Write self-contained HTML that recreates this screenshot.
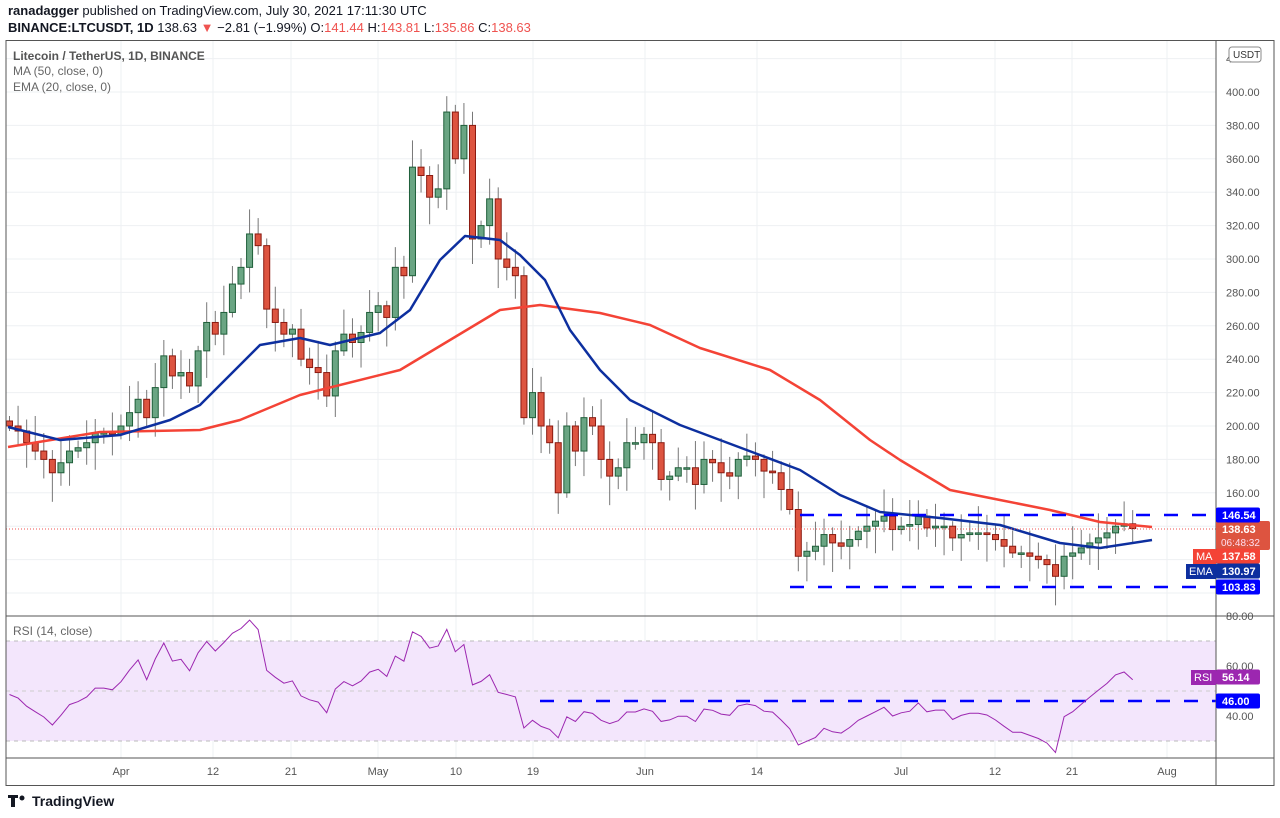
<!DOCTYPE html>
<html><head><meta charset="utf-8">
<style>
body{margin:0;background:#fff;font-family:"Liberation Sans",sans-serif;}
#w{position:relative;width:1280px;height:818px;overflow:hidden;background:#fff}
.h1{position:absolute;left:8px;top:3px;font-size:13px;color:#131722}
.h2{position:absolute;left:8px;top:20px;font-size:13px;color:#131722}
.r{color:#ef5350}
</style></head><body><div id="w">
<div class="h1"><b>ranadagger</b> published on TradingView.com, July 30, 2021 17:11:30 UTC</div>
<div class="h2"><b>BINANCE:LTCUSDT, 1D</b> 138.63 <span class="r">▼</span> −2.81 (−1.99%) O:<span class="r">141.44</span> H:<span class="r">143.81</span> L:<span class="r">135.86</span> C:<span class="r">138.63</span></div>
<svg id="s" width="1280" height="818" style="position:absolute;left:0;top:0" font-family="Liberation Sans, sans-serif"></svg>
</div>
<script>
const C=[200,197,190,185,180,172,178,185,187,190,196,196,195,
200,208,216,205,223,242,230,232,224,245,262,255,268,285,295,315,308,270,262,255,258,240,235,232,218,245,255,250,256,268,
272,265,295,290,355,350,337,342,388,360,380,312,320,336,300,295,290,205,220,200,190,160,200,185,205,200,180,170,175,190,
190,195,190,168,170,175,175,165,180,178,172,170,180,182,180,173,172,162,150,122,125,128,135,130,128,132,137,140,143,146,
138,140,141,146,139,140,140,133,135,136,136,135,132,128,124,124,122,120,117,110,122,124,127,130,133,136,140,141.44,138.63];
const X=i=>9.5+8.574*i, Y=p=>92+(400-p)*1.67, R=r=>666+(60-r)*2.5;
let s='';
const vx=[121,213,291,378,456,533,645,757,901,995,1072,1167];
vx.forEach(x=>{s+=`<line x1="${x}" y1="41" x2="${x}" y2="758" stroke="#eef0f3"/>`});
for(let p=100;p<=420;p+=20)s+=`<line x1="6" y1="${Y(p)}" x2="1216" y2="${Y(p)}" stroke="#eef0f3"/>`;
s+=`<rect x="6" y="${R(70)}" width="1210" height="100" fill="#f3e6fc"/>`;
s+=`<line x1="6" y1="${R(70)}" x2="1216" y2="${R(70)}" stroke="#bbb" stroke-dasharray="4,4"/><line x1="6" y1="${R(30)}" x2="1216" y2="${R(30)}" stroke="#bbb" stroke-dasharray="4,4"/><line x1="6" y1="${R(50)}" x2="1216" y2="${R(50)}" stroke="#ccc" stroke-dasharray="4,4"/>`;
let prev=203;
C.forEach((c,i)=>{const o=prev;prev=c;const hi=Math.max(o,c)+3+((i*7)%11)*1.3,lo=Math.min(o,c)-3-((i*5)%13)*1.2;
const up=c>=o,x=X(i),f=up?'#6aa583':'#dd5440',st=up?'#1f5f3a':'#8b1a10';
s+=`<line x1="${x}" y1="${Y(hi)}" x2="${x}" y2="${Y(lo)}" stroke="#777"/>`;
const t=Y(Math.max(o,c)),h=Math.max(1.5,Math.abs(Y(o)-Y(c)));
s+=`<rect x="${x-3}" y="${t}" width="6" height="${h}" fill="${f}" stroke="${st}"/>`;});
const ma=[[8,447],[100,432],[200,430],[240,420],[300,395],[400,370],[450,340],[500,310],[540,305],[600,313],[650,325],[700,348],[770,370],[820,400],[870,440],[900,460],[950,490],[1000,500],[1050,510],[1100,522],[1152,527]];
const ema=[[8,427],[60,440],[120,435],[170,420],[200,405],[230,375],[260,345],[300,338],[330,345],[380,333],[410,310],[440,260],[465,236],[500,240],[520,255],[545,280],[570,330],[600,370],[630,400],[680,425],[720,440],[760,455],[800,470],[840,495],[880,512],[940,518],[1000,525],[1060,543],[1100,548],[1152,540]];
s+=`<polyline points="${ma.join(' ')}" fill="none" stroke="#f44336" stroke-width="2.5" stroke-linejoin="round"/>`;
s+=`<polyline points="${ema.join(' ')}" fill="none" stroke="#0d2f9f" stroke-width="2.5" stroke-linejoin="round"/>`;
s+=`<line x1="800" y1="515" x2="1216" y2="515" stroke="#0000ff" stroke-width="2.5" stroke-dasharray="14,14"/>`;
s+=`<line x1="790" y1="587" x2="1216" y2="587" stroke="#0000ff" stroke-width="2.5" stroke-dasharray="14,14"/>`;
s+=`<line x1="540" y1="701" x2="1216" y2="701" stroke="#0000ff" stroke-width="2.5" stroke-dasharray="14,14"/>`;
s+=`<line x1="6" y1="529" x2="1216" y2="529" stroke="#ef5350" stroke-dasharray="1,2"/>`;
let ag=4,al=4,pts=[];prev=203;
C.forEach((c,i)=>{const d=c-prev;prev=c;ag=(ag*13+Math.max(d,0))/14;al=(al*13+Math.max(-d,0))/14;const r=100-100/(1+ag/al);pts.push([X(i).toFixed(1),R(r).toFixed(1)]);});
s+=`<polyline points="${pts.join(' ')}" fill="none" stroke="#9c27b0" stroke-width="1"/>`;
s+=`<rect x="6" y="40.5" width="1268" height="745" fill="none" stroke="#555"/>`;
s+=`<line x1="1216" y1="41" x2="1216" y2="785" stroke="#555"/><line x1="6" y1="616" x2="1274" y2="616" stroke="#555"/><line x1="6" y1="758" x2="1274" y2="758" stroke="#555"/>`;
for(let p=160;p<=420;p+=20)s+=`<text x="1226" y="${Y(p)+4}" font-size="11" fill="#555">${p}.00</text>`;
[[80,R(80)],[60,R(60)],[40,R(40)]].forEach(a=>s+=`<text x="1226" y="${a[1]+4}" font-size="11" fill="#555">${a[0]}.00</text>`);
const lb=['Apr','12','21','May','10','19','Jun','14','Jul','12','21','Aug'];
vx.forEach((x,i)=>s+=`<text x="${x}" y="775" font-size="11" fill="#555" text-anchor="middle">${lb[i]}</text>`);
const tag=(y,bg,t,h=15)=>`<rect x="1216" y="${y-h/2}" width="44" height="${h}" rx="2" fill="${bg}"/><text x="1222" y="${y+4}" font-size="11" fill="#fff" font-weight="bold">${t}</text>`;
s+=`<rect x="1216" y="521" width="54" height="29" rx="2" fill="#dd5440"/><text x="1222" y="533" font-size="11" fill="#fff" font-weight="bold">138.63</text><text x="1221" y="546" font-size="10" fill="#fde">06:48:32</text>`;
s+=tag(515,'#0000ff','146.54')+tag(556,'#f44336','137.58')+tag(571,'#0d2f9f','130.97')+tag(587,'#0000ff','103.83')+tag(677,'#9c27b0','56.14')+tag(701,'#0000ff','46.00');
s+=`<rect x="1193" y="549" width="23" height="15" fill="#f44336"/><text x="1196" y="560" font-size="11" fill="#fff">MA</text>`;
s+=`<rect x="1186" y="564" width="30" height="15" fill="#0d2f9f"/><text x="1189" y="575" font-size="11" fill="#fff">EMA</text>`;
s+=`<rect x="1191" y="670" width="25" height="15" fill="#9c27b0"/><text x="1194" y="681" font-size="11" fill="#fff">RSI</text>`;
s+=`<rect x="1229" y="47" width="32" height="15" rx="3" fill="#fff" stroke="#888"/><text x="1233" y="58" font-size="10" fill="#333">USDT</text>`;
s+=`<text x="13" y="60" font-size="12" fill="#555" font-weight="bold">Litecoin / TetherUS, 1D, BINANCE</text><text x="13" y="75" font-size="12" fill="#666">MA (50, close, 0)</text><text x="13" y="91" font-size="12" fill="#666">EMA (20, close, 0)</text>`;
s+=`<text x="13" y="635" font-size="12" fill="#666">RSI (14, close)</text>`;
s+=`<path d="M8 795h10v3h-3v9h-4v-9h-3z" fill="#131722"/><circle cx="22" cy="798" r="2.5" fill="#131722"/><text x="32" y="806" font-size="14" font-weight="bold" fill="#131722">TradingView</text>`;
document.getElementById('s').innerHTML=s;
</script></body></html>
